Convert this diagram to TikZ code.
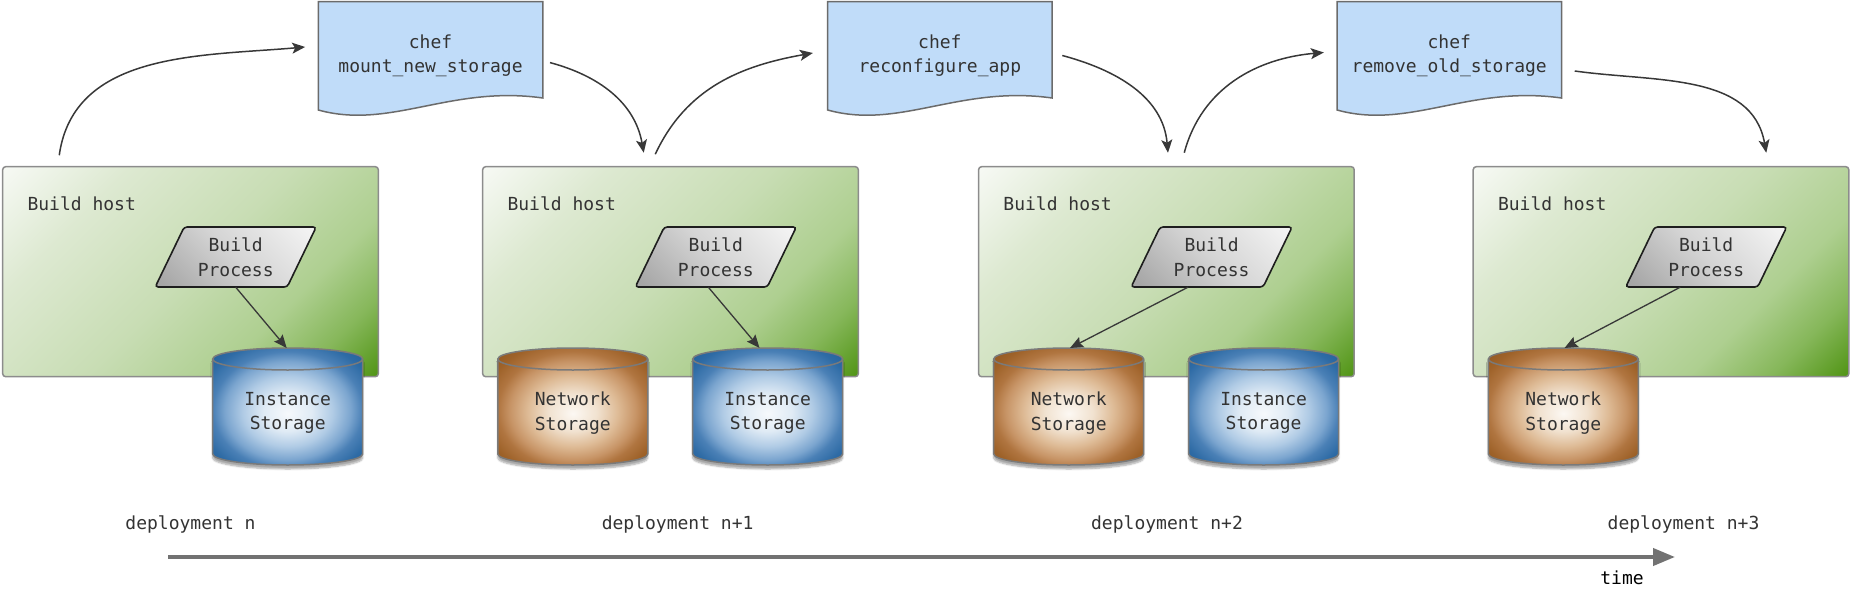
\documentclass[tikz,border=0pt]{standalone}
\usepackage{fontspec}
\setmonofont{DejaVu Sans Mono}
\usetikzlibrary{arrows.meta,calc,shadows.blur}

\definecolor{txt}{HTML}{333333}
\definecolor{hostborder}{HTML}{8C8C8C}
\definecolor{bpborder}{HTML}{1E1E1E}
\definecolor{cylborder}{HTML}{7A7A7A}
\definecolor{chefborder}{HTML}{6B6B6B}
\definecolor{cheffill}{HTML}{C0DCF9}
\definecolor{arrowc}{HTML}{383838}
\definecolor{timec}{HTML}{727272}
% host gradient
\definecolor{hg0}{HTML}{F8FAF6}
\definecolor{hg1}{HTML}{DDE9D1}
\definecolor{hg2}{HTML}{C8DDB4}
\definecolor{hg3}{HTML}{AECF90}
\definecolor{hg4}{HTML}{86B75A}
\definecolor{hg5}{HTML}{4D9210}
% parallelogram gradient
\definecolor{bg0}{HTML}{A6A6A6}
\definecolor{bg1}{HTML}{D4D4D4}
\definecolor{bg2}{HTML}{F2F2F2}
% blue cylinder
\definecolor{bl0}{HTML}{F6F9FC}
\definecolor{bl1}{HTML}{E0EBF5}
\definecolor{bl2}{HTML}{B0CBE5}
\definecolor{bl3}{HTML}{7BA5CF}
\definecolor{bl4}{HTML}{4A80B6}
\definecolor{bl5}{HTML}{2E6BA5}
\definecolor{bl6}{HTML}{225E98}
% brown cylinder
\definecolor{br0}{HTML}{FCF8F3}
\definecolor{br1}{HTML}{F1E2D0}
\definecolor{br2}{HTML}{DEBB96}
\definecolor{br3}{HTML}{C79466}
\definecolor{br4}{HTML}{B07540}
\definecolor{br5}{HTML}{9E6229}
\definecolor{br6}{HTML}{8F561F}

\pgfdeclarehorizontalshading{hostshade}{100bp}{color(0bp)=(hg0); color(14bp)=(hg0); color(30bp)=(hg1); color(50bp)=(hg2); color(66bp)=(hg3); color(76bp)=(hg4); color(86bp)=(hg5); color(100bp)=(hg5)}
\pgfdeclarehorizontalshading{bpshade}{100bp}{color(0bp)=(bg0); color(18bp)=(bg0); color(50bp)=(bg1); color(82bp)=(bg2); color(100bp)=(bg2)}
\pgfdeclareradialshading{bluecyl}{\pgfpoint{0bp}{-3bp}}{color(0bp)=(bl0); color(8bp)=(bl1); color(15bp)=(bl2); color(21bp)=(bl3); color(25bp)=(bl4); color(30bp)=(bl5); color(36bp)=(bl6); color(50bp)=(bl6)}
\pgfdeclareradialshading{browncyl}{\pgfpoint{0bp}{-3bp}}{color(0bp)=(br0); color(8bp)=(br1); color(15bp)=(br2); color(21bp)=(br3); color(25bp)=(br4); color(30bp)=(br5); color(36bp)=(br6); color(50bp)=(br6)}

\newcommand\bpshape[1]{%
  \path[shade, shading=bpshade, shading angle=45, draw=bpborder, line width=1.6pt, rounded corners=3pt]
    (#1-80.5,-287) -- ++(132,0) -- ++(29,60) -- ++(-132,0) -- cycle;}
\newcommand\cylshape[2]{%
  \path[blur shadow={shadow xshift=0pt, shadow yshift=-4pt, shadow opacity=35, shadow blur steps=6},
        shade, shading=#2, draw=cylborder, line width=1.5pt]
    (#1-75,-359) -- (#1-75,-454) arc[start angle=180,end angle=360,x radius=75,y radius=11]
    -- (#1+75,-359) arc[start angle=0,end angle=180,x radius=75,y radius=11] -- cycle;
  \draw[cylborder, line width=1.5pt] (#1-75,-359) arc[start angle=180,end angle=360,x radius=75,y radius=11];}
\newcommand\chefshape[1]{%
  \path[draw=chefborder, line width=1.5pt, fill=cheffill]
    (#1,-1.7) -- (#1+224.5,-1.7) -- (#1+224.5,-98)
    .. controls (#1+132,-85) and (#1+72,-130) .. (#1,-110) -- cycle;}

\begin{document}
\begin{tikzpicture}[x=1pt,y=1pt,
  every node/.style={font=\ttfamily\fontsize{18}{24.5}\selectfont, text=txt, inner sep=0pt},
  host/.style={rectangle, rounded corners=3pt, draw=hostborder, line width=1.5pt,
     shade, shading=hostshade, shading angle=-45, minimum width=375.6pt, minimum height=210pt},
  bpbox/.style={minimum width=130pt, minimum height=60pt, align=center},
  cyllabel/.style={align=center},
  chefbox/.style={minimum width=224.5pt, minimum height=108pt, align=center},
  hostlabel/.style={anchor=base west},
  deplabel/.style={anchor=base},
  flow/.style={-{Stealth[length=13pt,width=11pt,inset=3pt]}, draw=arrowc, line width=1.5pt},
  bparrow/.style={-{Stealth[length=13pt,width=11pt,inset=2pt]}, draw=arrowc, line width=1.3pt},
  timearrow/.style={-{Triangle[length=22pt,width=17pt]}, draw=timec, line width=4pt}
]
\useasboundingbox (0,0) rectangle (1851,-599);

% ---------- chef boxes ----------
\chefshape{318.3}
\node[chefbox] (chef1) at (430.55,-56) {chef\\mount\_new\_storage};
\chefshape{827.6}
\node[chefbox] (chef2) at (939.85,-56) {chef\\reconfigure\_app};
\chefshape{1337}
\node[chefbox] (chef3) at (1449.25,-56) {chef\\remove\_old\_storage};

% ---------- host 1 ----------
\node[host] (host1) at (190.5,-271.7) {};
\node[hostlabel] (hl1) at (27.3,-210.7) {Build host};
\bpshape{235.7}
\node[bpbox] (bp1) at (235.7,-257) {Build\\Process};
\cylshape{287.7}{bluecyl}
\node[cyllabel] (in1) at (287.7,-413) {Instance\\Storage};
\coordinate (in1top) at (286.7,-348);
\draw[bparrow] (bp1.south) -- (in1top);

% ---------- host 2 ----------
\node[host] (host2) at (670.5,-271.7) {};
\node[hostlabel] (hl2) at (507.3,-210.7) {Build host};
\bpshape{715.8}
\node[bpbox] (bp2) at (715.8,-257) {Build\\Process};
\cylshape{572.8}{browncyl}
\node[cyllabel] (net2) at (572.8,-413) {Network\\Storage};
\cylshape{767.7}{bluecyl}
\node[cyllabel] (in2) at (767.7,-413) {Instance\\Storage};
\coordinate (in2top) at (759.5,-348);
\draw[bparrow] ($(bp2.south)+(-7.5,0)$) -- (in2top);

% ---------- host 3 ----------
\node[host] (host3) at (1166.4,-271.7) {};
\node[hostlabel] (hl3) at (1003.2,-210.7) {Build host};
\bpshape{1211.6}
\node[bpbox] (bp3) at (1211.6,-257) {Build\\Process};
\cylshape{1068.7}{browncyl}
\node[cyllabel] (net3) at (1068.7,-413) {Network\\Storage};
\cylshape{1263.6}{bluecyl}
\node[cyllabel] (in3) at (1263.6,-413) {Instance\\Storage};
\coordinate (net3top) at (1070,-348);
\draw[bparrow] ($(bp3.south)+(-23.6,0)$) -- (net3top);

% ---------- host 4 ----------
\node[host] (host4) at (1661,-271.7) {};
\node[hostlabel] (hl4) at (1497.8,-210.7) {Build host};
\bpshape{1706.2}
\node[bpbox] (bp4) at (1706.2,-257) {Build\\Process};
\cylshape{1563.3}{browncyl}
\node[cyllabel] (net4) at (1563.3,-413) {Network\\Storage};
\coordinate (net4top) at (1564.5,-348);
\draw[bparrow] ($(bp4.south)+(-26,0)$) -- (net4top);

% ---------- curved flow arrows ----------
\draw[flow] ($(host1.north west)+(57.3,10.7)$) to[out=82,in=185] ($(chef1.west)+(-13,9)$);
\draw[flow] ($(chef1.east)+(7,-6.6)$) to[out=-15,in=100] ($(host2.north west)+(161.8,13.2)$);
\draw[flow] ($(host2.north west)+(173.3,11.7)$) to[out=65,in=190] ($(chef2.west)+(-14.5,3)$);
\draw[flow] ($(chef2.east)+(10,0.5)$) to[out=-15,in=95] ($(host3.north west)+(190.1,13.2)$);
\draw[flow] ($(host3.north west)+(206.4,13.2)$) to[out=75,in=185] ($(chef3.west)+(-13,3.5)$);
\draw[flow] ($(chef3.east)+(13,-15)$) to[out=-8,in=100] ($(host4.north west)+(293.8,13.2)$);

% ---------- timeline ----------
\node[deplabel] (d0) at (190.5,-529) {deployment n};
\node[deplabel] (d1) at (677.6,-529) {deployment n+1};
\node[deplabel] (d2) at (1167,-529) {deployment n+2};
\node[deplabel] (d3) at (1683.5,-529) {deployment n+3};
\coordinate (t0) at (168,-557);
\coordinate (t1) at (1675,-557);
\draw[timearrow] (t0) -- (t1);
\node[deplabel, text=black] (time) at (1622,-584) {time};
\end{tikzpicture}
\end{document}
